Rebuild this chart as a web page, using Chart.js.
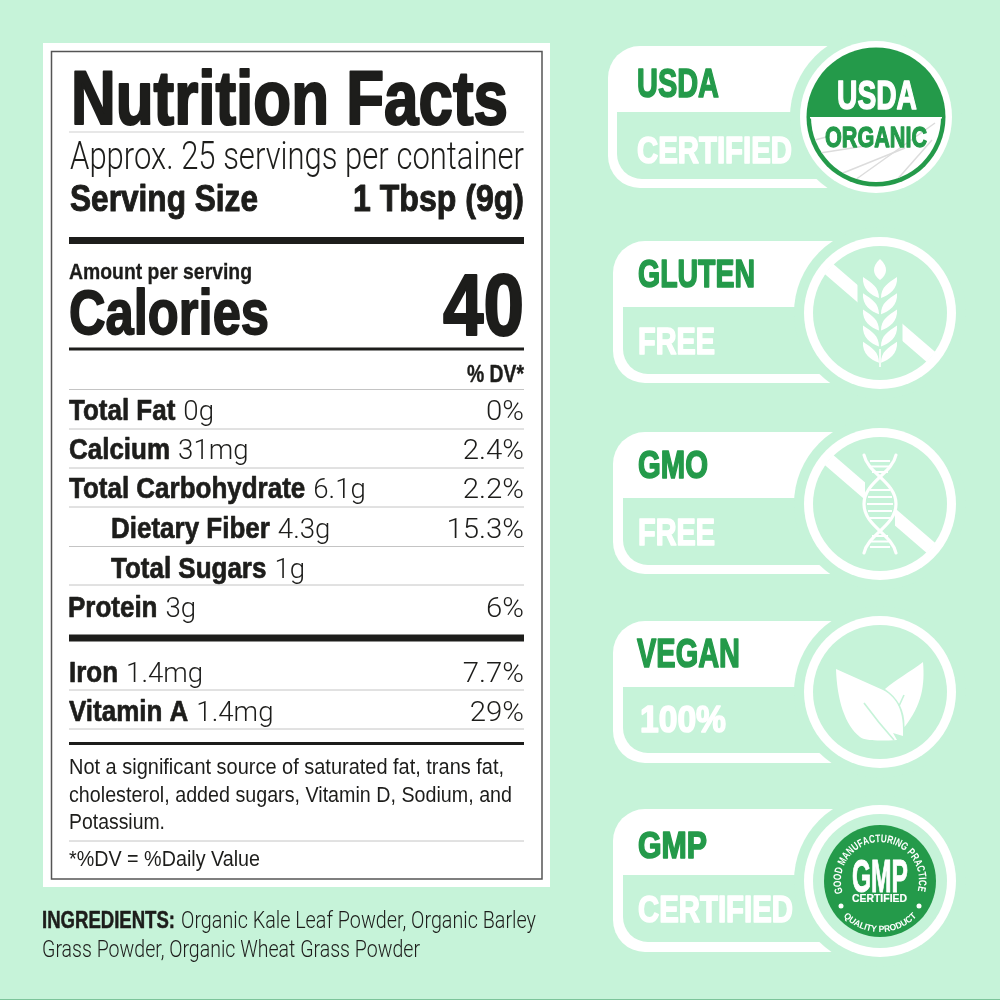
<!DOCTYPE html>
<html>
<head>
<meta charset="utf-8">
<title>Nutrition Facts</title>
<script src="https://cdn.jsdelivr.net/npm/chart.js@4"></script>
<style>
    html, body { margin: 0; padding: 0; background: #c6f3d9; }
    canvas { display: block; }
</style>
</head>
<body>
<canvas id="factsChart" width="1000" height="1000"></canvas>
<script>
// Данные таблицы
const nutrients = ['Total Fat', 'Calcium', 'Total Carbohydrate', 'Dietary Fiber', 'Total Sugars', 'Protein', 'Iron', 'Vitamin A'];
const amounts = ['0g', '31mg', '6.1g', '4.3g', '1g', '3g', '1.4mg', '1.4mg'];
const dailyValues = ['0%', '2.4%', '2.2%', '15.3%', '', '6%', '7.7%', '29%'];
const calories = '40';
const servingsText = 'Approx. 25 servings per container';
const servingSize = '1 Tbsp (9g)';
const footnotes = ['Not a significant source of saturated fat, trans fat,', 'cholesterol, added sugars, Vitamin D, Sodium, and', 'Potassium.'];
const ingredients = ['Organic Kale Leaf Powder, Organic Barley', 'Grass Powder, Organic Wheat Grass Powder'];
const badgeTitles = ['USDA', 'GLUTEN', 'GMO', 'VEGAN', 'GMP'];
const badgeSubtitles = ['CERTIFIED', 'FREE', 'FREE', '100%', 'CERTIFIED'];

// Раскладка (в единицах шкал 0..1000)
const rowBaselines = [420, 459, 498, 538, 577.5, 616.5, 682, 720.5];
const rowIndents = [69, 69, 69, 111, 111, 68, 69, 69];
const tableLeft = 69;
const tableRight = 524;
const rules = [
    [132, 1, '#cfcfcf'], [240.5, 7, '#1d1d1b'], [349, 3, '#1d1d1b'], [389.5, 1, '#c4c4c4'],
    [429, 1, '#c4c4c4'], [468, 1, '#c4c4c4'], [507, 1, '#c4c4c4'], [546.5, 1, '#c4c4c4'],
    [585, 1, '#c4c4c4'], [638, 7, '#1d1d1b'], [690, 1, '#c4c4c4'], [729, 1, '#c4c4c4'],
    [743.5, 3, '#1d1d1b'], [841, 1, '#c4c4c4']
];
const badgeBoxes = [
    { left: 608, top: 46, bottom: 188, innerLeft: 617, innerTop: 112, innerBottom: 179, cx: 876, cy: 117 },
    { left: 613, top: 241, bottom: 383, innerLeft: 623, innerTop: 307, innerBottom: 374, cx: 880, cy: 313 },
    { left: 613, top: 432, bottom: 574, innerLeft: 623, innerTop: 498, innerBottom: 565, cx: 880, cy: 504 },
    { left: 613, top: 621, bottom: 763, innerLeft: 623, innerTop: 687, innerBottom: 753, cx: 880, cy: 692 },
    { left: 613, top: 809, bottom: 952, innerLeft: 623, innerTop: 875, innerBottom: 942, cx: 880, cy: 881 }
];
const titleBoxes = [[637, 719, 97, 28], [638, 755, 287, 27], [638, 708, 478, 27], [637, 740, 667, 28], [638, 707, 858, 25]];
const subtitleBoxes = [[637, 792, 163, 26], [638, 715, 354, 26], [638, 715, 545, 26], [640, 726, 732, 26], [638, 793, 922, 26]];

const BG = '#c6f3d9';
const INK = '#1d1d1b';
const GREEN = '#249a4a';
const BOLD = '"Liberation Sans"';
const LIGHT = 'Roboto';

// Текст с заданным горизонтальным сжатием, возвращает правый край
function textAt(ctx, str, x, base, font, sx, color, stroke) {
    ctx.save();
    ctx.font = font;
    ctx.fillStyle = color;
    ctx.textAlign = 'left';
    ctx.textBaseline = 'alphabetic';
    ctx.translate(x, base);
    ctx.scale(sx, 1);
    ctx.fillText(str, 0, 0);
    if (stroke) {
        ctx.strokeStyle = color;
        ctx.lineWidth = stroke;
        ctx.lineJoin = 'round';
        ctx.strokeText(str, 0, 0);
    }
    const end = x + ctx.measureText(str).width * sx;
    ctx.restore();
    return end;
}

// Текст, вписанный между двумя краями
function fitText(ctx, str, left, right, base, font, color, stroke) {
    ctx.save();
    ctx.font = font;
    const sx = (right - left) / ctx.measureText(str).width;
    ctx.restore();
    textAt(ctx, str, left, base, font, sx, color, stroke);
}

function heavyFont(capHeight) {
    return 'bold ' + (capHeight / 0.69).toFixed(1) + 'px ' + BOLD;
}

// Текст по дуге: ширина букв подгоняется под длину дуги
function arcText(ctx, str, cx, cy, r, from, to, font, lower) {
    ctx.save();
    ctx.font = font;
    ctx.fillStyle = '#fff';
    ctx.textAlign = 'center';
    const chars = [...str];
    const widths = chars.map(ch => ctx.measureText(ch).width);
    const total = widths.reduce((a, b) => a + b, 0);
    const squeeze = Math.min(1, Math.abs(to - from) * r / total);
    let run = 0;
    chars.forEach((ch, i) => {
        const a = from + (to - from) * (run + widths[i] / 2) / total;
        run += widths[i];
        ctx.save();
        ctx.translate(cx, cy);
        ctx.rotate(a);
        ctx.translate(0, lower ? r : -r);
        ctx.scale(squeeze, 1);
        ctx.fillText(ch, 0, 0);
        ctx.restore();
    });
    ctx.restore();
}

function disc(ctx, cx, cy, r, color) {
    ctx.fillStyle = color;
    ctx.beginPath();
    ctx.arc(cx, cy, r, 0, Math.PI * 2);
    ctx.fill();
}

function drawBadgeShape(ctx, b) {
    ctx.fillStyle = '#fff';
    ctx.beginPath();
    ctx.roundRect(b.left, b.top, b.cx - b.left, b.bottom - b.top, [32, 0, 0, 32]);
    ctx.fill();
    ctx.fillStyle = BG;
    ctx.beginPath();
    ctx.roundRect(b.innerLeft, b.innerTop, b.cx - b.innerLeft, b.innerBottom - b.innerTop, [0, 0, 0, 25]);
    ctx.fill();
    disc(ctx, b.cx, b.cy, 86, BG);
    disc(ctx, b.cx, b.cy, 76, '#fff');
    disc(ctx, b.cx, b.cy, 67, BG);
}

function drawSlash(ctx, cx, cy, gapX) {
    ctx.save();
    ctx.beginPath();
    ctx.rect(cx - 80, cy - 80, 80 - gapX, 160);
    ctx.rect(cx + gapX, cy - 80, 80 - gapX, 160);
    ctx.clip();
    ctx.strokeStyle = '#fff';
    ctx.lineWidth = 13;
    ctx.beginPath();
    ctx.moveTo(cx - 51, cy - 44);
    ctx.lineTo(cx + 51, cy + 44);
    ctx.stroke();
    ctx.restore();
}

function drawWheat(ctx, cx, top) {
    ctx.fillStyle = '#fff';
    ctx.beginPath();
    ctx.moveTo(cx, top);
    ctx.bezierCurveTo(cx + 9, top + 8, cx + 7, top + 16, cx, top + 21);
    ctx.bezierCurveTo(cx - 7, top + 16, cx - 9, top + 8, cx, top);
    ctx.fill();
    for (let i = 0; i < 5; i++) {
        const y = top + 18 + i * 16.2;
        [-1, 1].forEach(side => {
            ctx.beginPath();
            ctx.moveTo(cx + side * 17, y);
            ctx.bezierCurveTo(cx + side * 18, y + 12, cx + side * 9, y + 18, cx + side * 1, y + 21);
            ctx.bezierCurveTo(cx + side * 1, y + 10, cx + side * 8, y + 6, cx + side * 17, y);
            ctx.fill();
        });
    }
    ctx.fillRect(cx - 0.8, top + 90, 1.6, 18);
}

function drawDna(ctx, cx, cy) {
    ctx.strokeStyle = '#fff';
    ctx.lineCap = 'round';
    ctx.lineWidth = 3.2;
    [-1, 1].forEach(side => {
        ctx.beginPath();
        ctx.moveTo(cx - side * 16, cy - 49);
        ctx.bezierCurveTo(cx - side * 12, cy - 30, cx + side * 16, cy - 22, cx + side * 16, cy);
        ctx.bezierCurveTo(cx + side * 16, cy + 22, cx - side * 12, cy + 30, cx - side * 16, cy + 49);
        ctx.stroke();
    });
    ctx.lineCap = 'butt';
    ctx.lineWidth = 2;
    [[-43, 10], [-37.5, 10], [-32, 8], [-14, 10], [-7, 12], [0, 13], [7, 12], [14, 10], [32, 8], [37.5, 10], [43, 10]].forEach(r => {
        ctx.beginPath();
        ctx.moveTo(cx - r[1], cy + r[0]);
        ctx.lineTo(cx + r[1], cy + r[0]);
        ctx.stroke();
    });
}

function drawLeaves(ctx) {
    ctx.fillStyle = '#fff';
    ctx.beginPath();
    ctx.moveTo(923, 662);
    ctx.bezierCurveTo(925, 685, 922, 705, 904.5, 727);
    ctx.bezierCurveTo(905, 710, 898, 698, 885, 689);
    ctx.bezierCurveTo(895, 680, 910, 672, 923, 662);
    ctx.fill();
    ctx.beginPath();
    ctx.moveTo(836, 669);
    ctx.lineTo(883, 690);
    ctx.bezierCurveTo(898, 698, 904, 712, 903, 736);
    ctx.lineTo(893, 733);
    ctx.lineTo(897, 740);
    ctx.bezierCurveTo(880, 741, 865, 741, 860, 737);
    ctx.bezierCurveTo(845, 725, 837, 700, 836, 669);
    ctx.fill();
    ctx.strokeStyle = BG;
    ctx.lineWidth = 1.6;
    ctx.beginPath();
    ctx.moveTo(864, 703);
    ctx.bezierCurveTo(875, 718, 885, 730, 894, 740);
    ctx.stroke();
    ctx.beginPath();
    ctx.moveTo(899, 706);
    ctx.lineTo(904, 695);
    ctx.stroke();
}

function drawUsdaSeal(ctx, cx, cy) {
    disc(ctx, cx, cy, 69.5, GREEN);
    ctx.save();
    ctx.beginPath();
    ctx.arc(cx, cy, 65, 0, Math.PI);
    ctx.closePath();
    ctx.fillStyle = '#fff';
    ctx.fill();
    ctx.clip();
    ctx.strokeStyle = '#dcdcdc';
    ctx.lineWidth = 1.5;
    [[[815, 140], [830, 136]], [[820, 153], [865, 146]], [[843, 173], [905, 148]], [[855, 180], [935, 123]], [[895, 182], [932, 140]]].forEach(l => {
        ctx.beginPath();
        ctx.moveTo(l[0][0], l[0][1]);
        ctx.lineTo(l[1][0], l[1][1]);
        ctx.stroke();
    });
    ctx.restore();
    ctx.fillStyle = '#fff';
    ctx.fillRect(cx - 66, cy, 132, 1.5);
    fitText(ctx, 'USDA', 837, 917, 109, heavyFont(28), '#fff', 1.4);
    fitText(ctx, 'ORGANIC', 825, 927, 147, heavyFont(21), GREEN, 1.3);
}

function drawGmpSeal(ctx, cx, cy) {
    disc(ctx, cx, cy, 56, GREEN);
    fitText(ctx, 'GMP', 852, 908, 892, heavyFont(32), '#fff', 1);
    fitText(ctx, 'CERTIFIED', 852, 907, 902, heavyFont(7.5), '#fff', 0.2);
    const rad = Math.PI / 180;
    arcText(ctx, 'GOOD MANUFACTURING PRACTICE', cx, cy, 39, -108 * rad, 105 * rad, 'bold 11px ' + BOLD, false);
    arcText(ctx, 'QUALITY PRODUCT', cx, cy, 51, 46 * rad, -46 * rad, 'bold 9px ' + BOLD, true);
    disc(ctx, 841, 906, 2.5, '#fff');
    disc(ctx, 919, 906, 2.5, '#fff');
}

// Фон, панель, значки: всё под наборами данных
const backdropPlugin = {
    id: 'backdrop',
    beforeDatasetsDraw(chart) {
        const ctx = chart.ctx;
        ctx.save();
        ctx.fillStyle = BG;
        ctx.fillRect(0, 0, 1000, 1000);
        ctx.fillStyle = '#7cc49a';
        ctx.fillRect(0, 999, 1000, 1);
        ctx.fillStyle = '#fff';
        ctx.fillRect(43, 43, 507, 844);
        ctx.strokeStyle = '#555';
        ctx.lineWidth = 1.5;
        ctx.strokeRect(51.5, 51.5, 490.5, 827.5);
        badgeBoxes.forEach(b => drawBadgeShape(ctx, b));
        drawUsdaSeal(ctx, badgeBoxes[0].cx, badgeBoxes[0].cy);
        drawSlash(ctx, badgeBoxes[1].cx, badgeBoxes[1].cy, 22.5);
        drawWheat(ctx, badgeBoxes[1].cx, 259);
        drawSlash(ctx, badgeBoxes[2].cx, badgeBoxes[2].cy, 15);
        drawDna(ctx, badgeBoxes[2].cx, badgeBoxes[2].cy);
        drawLeaves(ctx);
        drawGmpSeal(ctx, badgeBoxes[4].cx, badgeBoxes[4].cy);
        ctx.restore();
    }
};

// Подписи поверх: строки привязаны к точкам набора через шкалы
const labelsPlugin = {
    id: 'labels',
    afterDatasetsDraw(chart) {
        const ctx = chart.ctx;
        const xs = chart.scales.x;
        const ys = chart.scales.y;
        const X = v => xs.getPixelForValue(v);
        const Y = v => ys.getPixelForValue(v);

        fitText(ctx, 'Nutrition Facts', X(71), X(508), Y(124), heavyFont(53), INK, 2.2);
        fitText(ctx, servingsText, X(70), X(524), Y(169), '300 38px ' + LIGHT, INK);
        fitText(ctx, 'Serving Size', X(70), X(258), Y(211), heavyFont(26), INK, 1);
        fitText(ctx, servingSize, X(353), X(524), Y(211), heavyFont(26), INK, 1);
        fitText(ctx, 'Amount per serving', X(69), X(252), Y(279), heavyFont(15), INK, 0.3);
        fitText(ctx, 'Calories', X(69), X(269), Y(334), heavyFont(44), INK, 1.8);
        fitText(ctx, calories, X(443), X(524), Y(335), heavyFont(60), INK, 2.2);
        fitText(ctx, '% DV*', X(467), X(524), Y(381.5), heavyFont(16), INK, 0.4);

        const points = chart.getDatasetMeta(0).data;
        nutrients.forEach((name, i) => {
            const base = points[i].y;
            const end = textAt(ctx, name, X(rowIndents[i]), base, heavyFont(20.5), 0.875, INK, 0.7);
            textAt(ctx, amounts[i], end + 8, base, '300 28.5px ' + LIGHT, 0.97, INK);
            if (dailyValues[i]) {
                ctx.save();
                ctx.font = '300 28.5px ' + LIGHT;
                const w = ctx.measureText(dailyValues[i]).width * 1.03;
                ctx.restore();
                textAt(ctx, dailyValues[i], points[i].x - w, base, '300 28.5px ' + LIGHT, 1.03, INK);
            }
        });

        const noteBases = [774, 802, 829];
        const noteRights = [504, 512, 165];
        footnotes.forEach((line, i) => fitText(ctx, line, X(tableLeft), X(noteRights[i]), Y(noteBases[i]), '22.5px ' + BOLD, INK));
        fitText(ctx, '*%DV = %Daily Value', X(tableLeft), X(260), Y(866), '22.5px ' + BOLD, INK);

        fitText(ctx, 'INGREDIENTS:', X(42), X(175), Y(928), heavyFont(16), INK, 0.5);
        fitText(ctx, ingredients[0], X(181), X(536), Y(928), '300 24.5px ' + LIGHT, INK);
        fitText(ctx, ingredients[1], X(42), X(420), Y(957), '300 24.5px ' + LIGHT, INK);

        badgeTitles.forEach((title, i) => {
            const t = titleBoxes[i];
            fitText(ctx, title, X(t[0]), X(t[1]), Y(t[2]), heavyFont(t[3]), GREEN, 1.6);
        });
        badgeSubtitles.forEach((sub, i) => {
            const s = subtitleBoxes[i];
            fitText(ctx, sub, X(s[0]), X(s[1]), Y(s[2]), heavyFont(s[3]), '#fff', 1.6);
        });
    }
};

new Chart(document.getElementById('factsChart'), {
    type: 'scatter',
    data: {
        datasets: [
            {
                label: 'Nutrients',
                data: nutrients.map((name, i) => ({ x: tableRight, y: rowBaselines[i] })),
                pointRadius: 0,
                showLine: false
            },
            ...rules.map(r => ({
                data: [{ x: tableLeft, y: r[0] }, { x: tableRight, y: r[0] }],
                showLine: true,
                pointRadius: 0,
                borderColor: r[2],
                borderWidth: r[1]
            }))
        ]
    },
    options: {
        responsive: false,
        animation: false,
        devicePixelRatio: 1,
        layout: { padding: 0 },
        plugins: { legend: { display: false }, tooltip: { enabled: false }, title: { display: false } },
        scales: {
            x: { type: 'linear', min: 0, max: 1000, display: false },
            y: { type: 'linear', min: 0, max: 1000, reverse: true, display: false }
        }
    },
    plugins: [backdropPlugin, labelsPlugin]
});
</script>
</body>
</html>
